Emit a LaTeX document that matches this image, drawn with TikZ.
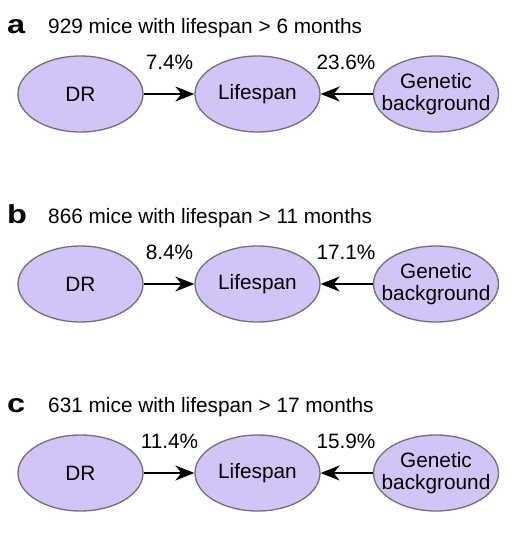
\documentclass[tikz,border=0pt]{standalone}
\usepackage{fontspec}
\setmainfont{Liberation Sans}
\usetikzlibrary{shapes.geometric,arrows.meta}
\definecolor{ellfill}{RGB}{210,196,246}
\definecolor{ellline}{RGB}{112,112,118}
\begin{document}
\begin{tikzpicture}[x=1pt,y=-1pt,
  ell/.style={ellipse,draw=ellline,line width=1.3pt,fill=ellfill,minimum width=125pt,minimum height=76pt,inner sep=0pt},
  txt/.style={font=\fontsize{20.8}{23}\selectfont,inner sep=0pt,align=center},
  plabel/.style={font=\fontsize{26}{26}\selectfont\bfseries,inner sep=0pt},
  conn/.style={line width=1.6pt,-{Stealth[length=19pt,width=15pt,inset=6pt]}}]
\useasboundingbox (0,0) rectangle (526,538);
\foreach \yc/\lab/\num/\mon/\pl/\pr/\name in {94/a/929/6/7.4/23.6/A, 284/b/866/11/8.4/17.1/B, 473/c/631/17/11.4/15.9/C}{
  \node[plabel,anchor=base west] (let\name) at (7,\yc-61) {\scalebox{1.25}[1]{\lab}};
  \node[txt,anchor=base west] (tit\name) at (48,\yc-61) {\num{} mice with lifespan > \mon{} months};
  \node[ell] (dr\name) at (80.5,\yc) {};
  \node[ell] (ls\name) at (257.5,\yc) {};
  \node[ell] (gb\name) at (436,\yc) {};
  \node[txt] (drt\name) at (dr\name) {DR};
  \node[txt] (lst\name) at (ls\name) {Lifespan};
  \node[txt] (gbt\name) at (gb\name) {Genetic\\[-1pt]background};
  \draw[conn] (dr\name) -- (ls\name);
  \draw[conn] (gb\name) -- (ls\name);
  \node[txt] (pl\name) at (169.5,\yc-32) {\pl\%};
  \node[txt] (pr\name) at (346,\yc-32) {\pr\%};
}
\end{tikzpicture}
\end{document}
